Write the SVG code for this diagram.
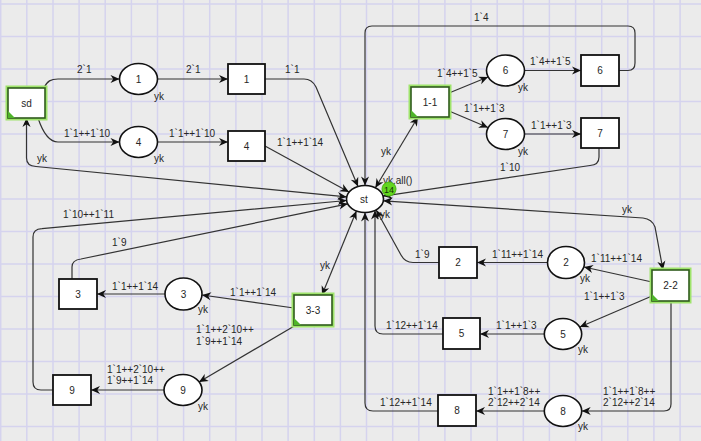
<svg xmlns="http://www.w3.org/2000/svg" width="701" height="441" viewBox="0 0 701 441">
<defs>
<style>
.bg{fill:#ebebeb}
.grid{stroke:#d5d3ee;stroke-width:1.5;fill:none}
.arc{fill:none;stroke:#333;stroke-width:1.2}
.end{marker-end:url(#ah)}
.both{marker-end:url(#ah);marker-start:url(#ah)}
.pl{fill:#fff;stroke:#111;stroke-width:1.6}
.tr{fill:#fff;stroke:#111;stroke-width:1.8}
.halo{fill:none;stroke:#9fe46c;stroke-width:5}
.gtr{fill:#fff;stroke:#2f5a1c;stroke-width:1.6}
.corner{fill:#4fb52a}
text{font-family:"Liberation Sans",Arial,sans-serif;font-size:10px;fill:#262626}
.nl{text-anchor:middle}
</style>
<marker id="ah" viewBox="0 0 10 10" refX="10" refY="5" markerWidth="10" markerHeight="9" markerUnits="userSpaceOnUse" orient="auto-start-reverse">
<path d="M0,0.5 L10,5 L0,9.5 L3,5 z" fill="#111"/>
</marker>
</defs>
<rect class="bg" x="0" y="0" width="701" height="441"/>
<path class="grid" d="M0.7,0V441M26.8,0V441M53,0V441M79.1,0V441M105.2,0V441M131.4,0V441M157.5,0V441M183.6,0V441M209.7,0V441M235.9,0V441M262,0V441M288.1,0V441M314.3,0V441M340.4,0V441M366.5,0V441M392.7,0V441M418.8,0V441M444.9,0V441M471,0V441M497.2,0V441M523.3,0V441M549.4,0V441M575.6,0V441M601.7,0V441M627.8,0V441M653.9,0V441M680.1,0V441M0,4H701M0,36.5H701M0,69H701M0,101.5H701M0,134H701M0,166.5H701M0,199H701M0,231.5H701M0,264H701M0,296.5H701M0,329H701M0,361.5H701M0,394H701M0,426.5H701"/>

<g id="connectors">
<path class="arc end" d="M44,88 C47,81 51,79 58,79 L119.5,79"/>
<path class="arc end" d="M157.5,79 L228,79"/>
<path class="arc end" d="M265,79 L304,79 Q312,79 316,87 L358,186.5"/>
<path class="arc end" d="M38,118 C42,130 48,142 58,142 L119.5,142"/>
<path class="arc end" d="M157.5,142 L228,142"/>
<path class="arc end" d="M265,146 L349,192"/>
<path class="arc both" d="M26.5,118 L26.5,158 Q26.5,166 36,166.5 L346.7,196.9"/>
<path class="arc end" d="M53,390 L41,390 Q33,390 33,382 L33,237 Q33,229 42,228.7 L346.6,200.5"/>
<path class="arc end" d="M72,279 L72,267 Q72,260 81,259 L347.8,203.8"/>
<path class="arc both" d="M322,295 L356.4,211"/>
<path class="arc end" d="M294,308 L202,295"/>
<path class="arc end" d="M165,294 L97,294"/>
<path class="arc end" d="M296,325 L199,382"/>
<path class="arc end" d="M164,390 L91,390"/>
<path class="arc both" d="M375.4,187.8 L418,117"/>
<path class="arc end" d="M449,93 L488,77"/>
<path class="arc end" d="M449,111 L488,127.5"/>
<path class="arc end" d="M524.5,70.5 L581,70.5"/>
<path class="arc end" d="M524.5,134 L581,134"/>
<path class="arc end" d="M619,70.5 L628,70.5 Q635,70.5 635,63 L635,33 Q635,26 628,26 L372,26 Q365,26 365,33 L365,185.5"/>
<path class="arc end" d="M599,148 L599,157 Q599,165 590,165.5 L383,196.1"/>
<path class="arc both" d="M383.4,200.8 L643,218 Q652,219 655,227 L663,270"/>
<path class="arc end" d="M652,282 L584,267"/>
<path class="arc end" d="M547.5,262.5 L477,262.5"/>
<path class="arc end" d="M439,262.5 L413,262.5 Q405,262.5 401,255 L376.2,210"/>
<path class="arc end" d="M652,296 L579.8,327"/>
<path class="arc end" d="M544.3,334 L480,334"/>
<path class="arc end" d="M443,334 L383,334 Q375,334 375,326 L375,210.5"/>
<path class="arc end" d="M671,301 L671,404 Q671,411 664,411 L581.7,411"/>
<path class="arc end" d="M544.3,411 L476,411"/>
<path class="arc end" d="M438,411 L373,411 Q365,411 365,403 L365,212.5"/>
</g>

<g id="arc-labels">
<text x="77" y="73">2`1</text>
<text x="186" y="73">2`1</text>
<text x="285" y="73">1`1</text>
<text x="154" y="100">yk</text>
<text x="64" y="137">1`1++1`10</text>
<text x="169" y="137">1`1++1`10</text>
<text x="277" y="146">1`1++1`14</text>
<text x="154" y="162">yk</text>
<text x="37" y="162">yk</text>
<text x="474" y="21">1`4</text>
<text x="437" y="77">1`4++1`5</text>
<text x="530" y="65">1`4++1`5</text>
<text x="518" y="91">yk</text>
<text x="464" y="112">1`1++1`3</text>
<text x="531" y="129">1`1++1`3</text>
<text x="518" y="154.5">yk</text>
<text x="381" y="155">yk</text>
<text x="383" y="184">yk.all()</text>
<text x="380" y="218">yk</text>
<text x="500" y="171">1`10</text>
<text x="622" y="213">yk</text>
<text x="63" y="218">1`10++1`11</text>
<text x="112" y="246">1`9</text>
<text x="320" y="269">yk</text>
<text x="230" y="296">1`1++1`14</text>
<text x="112" y="290">1`1++1`14</text>
<text x="198" y="313">yk</text>
<text x="196" y="333">1`1++2`10++</text>
<text x="196" y="345">1`9++1`14</text>
<text x="107" y="373">1`1++2`10++</text>
<text x="107" y="384">1`9++1`14</text>
<text x="198" y="410">yk</text>
<text x="591" y="262">1`11++1`14</text>
<text x="580" y="282">yk</text>
<text x="492" y="258">1`11++1`14</text>
<text x="415" y="258">1`9</text>
<text x="584" y="300">1`1++1`3</text>
<text x="578" y="353">yk</text>
<text x="496" y="329">1`1++1`3</text>
<text x="386" y="329">1`12++1`14</text>
<text x="603" y="395">1`1++1`8++</text>
<text x="603" y="406">2`12++2`14</text>
<text x="488" y="395">1`1++1`8++</text>
<text x="488" y="406">2`12++2`14</text>
<text x="380" y="406">1`12++1`14</text>
<text x="578" y="430">yk</text>
</g>

<g id="sd"><rect class="halo" x="8" y="88" width="37" height="30"/><rect class="gtr" x="8" y="88" width="37" height="30"/><path class="corner" d="M8,118 L15,118 L8,111 z"/><text class="nl" x="26.5" y="106.5">sd</text></g>
<g id="p1"><ellipse class="pl" cx="138.5" cy="79" rx="19" ry="15.5"/><text class="nl" x="138.5" y="82.5">1</text></g>
<g id="t1"><rect class="tr" x="228" y="64" width="37" height="30"/><text class="nl" x="246.5" y="82.5">1</text></g>
<g id="p4"><ellipse class="pl" cx="138.5" cy="142" rx="19" ry="15.5"/><text class="nl" x="138.5" y="145.5">4</text></g>
<g id="t4"><rect class="tr" x="228" y="131" width="37" height="30"/><text class="nl" x="246.5" y="149.5">4</text></g>
<g id="st"><ellipse class="pl" cx="365" cy="199" rx="18.5" ry="13.5"/><text class="nl" x="364" y="202.5">st</text><circle cx="389" cy="189" r="7" fill="#63d61f" stroke="#4bb416" stroke-width="1"/><text class="nl" x="389" y="192.5" style="font-size:9px;fill:#17330a">14</text></g>
<g id="t1-1"><rect class="halo" x="411" y="87" width="38" height="30"/><rect class="gtr" x="411" y="87" width="38" height="30"/><path class="corner" d="M411,117 L418,117 L411,110 z"/><text class="nl" x="430" y="105.5">1-1</text></g>
<g id="p6"><ellipse class="pl" cx="505.5" cy="70.5" rx="19" ry="15.5"/><text class="nl" x="505.5" y="74">6</text></g>
<g id="t6"><rect class="tr" x="581" y="55" width="38" height="31"/><text class="nl" x="600" y="74">6</text></g>
<g id="p7"><ellipse class="pl" cx="505.5" cy="134" rx="19" ry="15.5"/><text class="nl" x="505.5" y="137.5">7</text></g>
<g id="t7"><rect class="tr" x="581" y="118" width="38" height="30"/><text class="nl" x="600" y="136.5">7</text></g>
<g id="t3"><rect class="tr" x="59" y="279" width="38" height="30"/><text class="nl" x="78" y="297.5">3</text></g>
<g id="p3"><ellipse class="pl" cx="183.5" cy="294" rx="18.5" ry="16"/><text class="nl" x="183.5" y="297.5">3</text></g>
<g id="t3-3"><rect class="halo" x="294" y="295" width="38" height="30"/><rect class="gtr" x="294" y="295" width="38" height="30"/><path class="corner" d="M294,325 L301,325 L294,318 z"/><text class="nl" x="313" y="313.5">3-3</text></g>
<g id="p9"><ellipse class="pl" cx="183" cy="390" rx="19" ry="15.5"/><text class="nl" x="183" y="393.5">9</text></g>
<g id="t9"><rect class="tr" x="53" y="375" width="38" height="30"/><text class="nl" x="72" y="393.5">9</text></g>
<g id="t2"><rect class="tr" x="439" y="247" width="38" height="31"/><text class="nl" x="458" y="266">2</text></g>
<g id="p2"><ellipse class="pl" cx="566" cy="262.5" rx="18.5" ry="16"/><text class="nl" x="566" y="266">2</text></g>
<g id="t2-2"><rect class="halo" x="652" y="270" width="37" height="31"/><rect class="gtr" x="652" y="270" width="37" height="31"/><path class="corner" d="M652,301 L659,301 L652,294 z"/><text class="nl" x="670.5" y="289">2-2</text></g>
<g id="t5"><rect class="tr" x="443" y="318" width="37" height="31"/><text class="nl" x="461.5" y="337">5</text></g>
<g id="p5"><ellipse class="pl" cx="563" cy="334" rx="18.7" ry="15.5"/><text class="nl" x="563" y="337.5">5</text></g>
<g id="t8"><rect class="tr" x="438" y="395" width="38" height="31"/><text class="nl" x="457" y="414">8</text></g>
<g id="p8"><ellipse class="pl" cx="563" cy="411" rx="18.7" ry="15.5"/><text class="nl" x="563" y="414.5">8</text></g>
</svg>
